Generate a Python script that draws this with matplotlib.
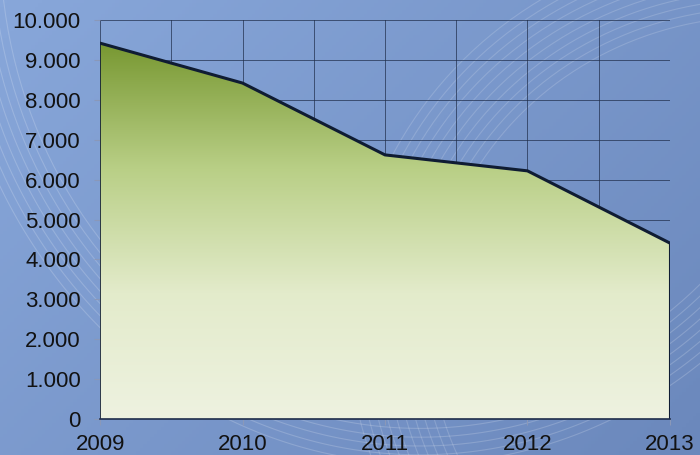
import numpy as np
import matplotlib
matplotlib.use("Agg")
import matplotlib.pyplot as plt
from matplotlib.colors import LinearSegmentedColormap
from matplotlib.ticker import FuncFormatter, MultipleLocator

# values
years = [2009, 2010, 2011, 2012, 2013]
values = [9420, 8420, 6620, 6220, 4410]

plt.rcParams["font.family"] = ["Liberation Sans", "DejaVu Sans"]

fig = plt.figure(figsize=(7.0, 4.55), dpi=100)

# blue slide background with a few white swirl lines
bg = fig.add_axes([0, 0, 1, 1], zorder=0)
gx, gy = np.meshgrid(np.linspace(0, 1, 200), np.linspace(0, 1, 130))
grad = 0.6 * gx + 0.4 * gy  # row 0 = top
bg_cmap = LinearSegmentedColormap.from_list("bg", ["#88a7da", "#6b88bc"])
bg.imshow(grad, cmap=bg_cmap, extent=[0, 700, 455, 0], aspect="auto")
th = np.linspace(0, 2 * np.pi, 400)
for k in range(10):
    r = 330 + k * 9
    bg.plot(760 + r * np.cos(th), 330 + r * 0.95 * np.sin(th),
            color="white", lw=0.8, alpha=0.16)
for k in range(8):
    r = 420 + k * 8
    bg.plot(420 + r * np.cos(th), -60 + r * 1.1 * np.sin(th),
            color="white", lw=0.8, alpha=0.18)
bg.set_xlim(0, 700); bg.set_ylim(455, 0); bg.axis("off")

ax = fig.add_axes([0.143, 0.079, 0.814, 0.877], zorder=1)
ax.patch.set_alpha(0)

# grid: every 1.000 and every half year
line_col = "#1f2d4a"
ax.yaxis.set_major_locator(MultipleLocator(1000))
ax.xaxis.set_major_locator(MultipleLocator(1))
ax.xaxis.set_minor_locator(MultipleLocator(0.5))
ax.grid(True, which="both", axis="x", color=line_col, lw=0.7, alpha=0.7, zorder=0)
ax.grid(True, which="major", axis="y", color=line_col, lw=0.7, alpha=0.7, zorder=0)
ax.set_axisbelow(True)

# area with vertical green gradient
poly = ax.fill_between(years, values, 0, facecolor="none", edgecolor="none", zorder=2)
green = LinearSegmentedColormap.from_list("green", ["#789832", "#b9cf86", "#e3ebcb", "#eef2e0"])
img = ax.imshow(np.linspace(0, 1, 256).reshape(-1, 1), cmap=green, aspect="auto",
                extent=[2009, 2013, 0, max(values)], origin="upper", zorder=2)
img.set_clip_path(poly.get_paths()[0], transform=ax.transData)
ax.plot(years, values, color="#0f1c33", lw=2.2, zorder=3, solid_joinstyle="miter")
ax.plot([2013, 2013], [0, values[-1]], color="#0f1c33", lw=1.5, zorder=3)
ax.plot([2009, 2009], [0, values[0]], color="#0f1c33", lw=1.2, zorder=3)
ax.set_xlim(2009, 2013)
ax.set_ylim(0, 10000)

for s in ["top", "right", "left"]:
    ax.spines[s].set_visible(False)
ax.spines["bottom"].set_color(line_col)
ax.spines["bottom"].set_linewidth(1.2)
ax.spines["bottom"].set_zorder(4)

ax.yaxis.set_major_formatter(FuncFormatter(lambda v, p: f"{int(v):,}".replace(",", ".")))
ax.tick_params(axis="y", length=4, color="#8a98b8", labelsize=16, labelcolor="#121212", pad=10)
ax.tick_params(axis="x", which="major", length=4, color="#8a98b8", labelsize=16,
               labelcolor="#121212", pad=7)
ax.tick_params(axis="x", which="minor", length=0)

fig.savefig("out.png", dpi=100)
